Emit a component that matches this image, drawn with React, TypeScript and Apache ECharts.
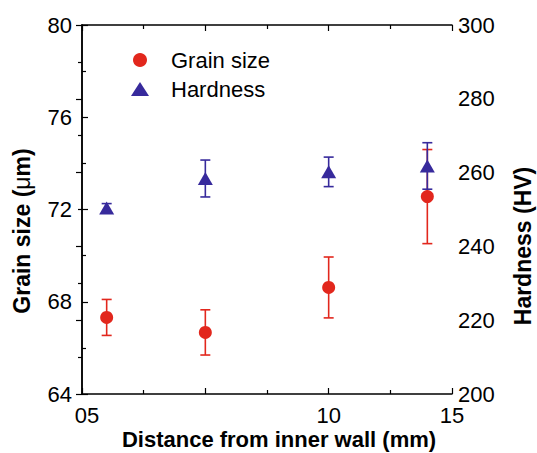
import React, { useEffect, useRef } from "react";
import * as echarts from "echarts";

const distance = [1, 5, 10, 14];
const grainSize = [67.32, 66.67, 68.62, 72.56];
const grainErr = [0.78, 0.98, 1.32, 2.04];
const hardness = [250.4, 258.4, 260.2, 261.8];
const hardErr = [1.2, 5.0, 4.0, 6.3];
const xTickLabels: Record<number, string> = { 0: "05", 5: "", 10: "10", 15: "15" };

const RED = "#e2271d";
const BLUE = "#372a9c";
const FONT = "Liberation Sans, Arial, Helvetica, sans-serif";

function errSeries(name: string, xs: number[], ys: number[], es: number[], color: string, yAxisIndex: number) {
  return {
    name,
    type: "custom",
    yAxisIndex,
    z: 2,
    silent: true,
    data: xs.map((x, i) => [x, ys[i] - es[i], ys[i] + es[i]]),
    renderItem: (params: any, api: any) => {
      const lo = api.coord([api.value(0), api.value(1)]);
      const hi = api.coord([api.value(0), api.value(2)]);
      const w = 5;
      const style = { stroke: color, lineWidth: 1.6 };
      return {
        type: "group",
        children: [
          { type: "line", shape: { x1: lo[0], y1: lo[1], x2: hi[0], y2: hi[1] }, style },
          { type: "line", shape: { x1: lo[0] - w, y1: lo[1], x2: lo[0] + w, y2: lo[1] }, style },
          { type: "line", shape: { x1: hi[0] - w, y1: hi[1], x2: hi[0] + w, y2: hi[1] }, style },
        ],
      };
    },
  };
}

export default function App() {
  const ref = useRef<HTMLDivElement>(null);
  useEffect(() => {
    const chart = echarts.init(ref.current!, null, { renderer: "svg" });
    const axisLine = { show: true, lineStyle: { color: "#000", width: 1.5 } };
    const tick = (len: number) => ({ show: true, inside: true, length: len, lineStyle: { color: "#000", width: 1.2 } });
    const minor = { show: true, splitNumber: 2, length: 4, lineStyle: { color: "#000", width: 1.2 } };
    const labelStyle = { color: "#000", fontSize: 22, fontFamily: FONT };
    chart.setOption({
      animation: false,
      backgroundColor: "#fff",
      grid: { left: 82, right: 85, top: 25, bottom: 59 },
      legend: {
        orient: "vertical",
        left: 126,
        top: 44,
        itemWidth: 18,
        itemHeight: 14,
        itemGap: 7,
        data: ["Grain size", "Hardness"],
        textStyle: { color: "#000", fontSize: 22, fontFamily: FONT, padding: [0, 0, 0, 17] },
      },
      graphic: [
        {
          type: "text",
          x: 279,
          y: 439,
          style: {
            text: "Distance from inner wall (mm)",
            fill: "#000",
            font: "bold 22px " + FONT,
            align: "center",
            verticalAlign: "middle",
          },
        },
        {
          type: "text",
          x: 22,
          y: 231,
          rotation: Math.PI / 2,
          style: {
            text: "{b|Grain size (}{m|μ}{b|m)}",
            align: "center",
            verticalAlign: "middle",
            rich: {
              b: { fill: "#000", fontSize: 23, fontWeight: "bold", fontFamily: FONT },
              m: { fill: "#000", fontSize: 23, fontWeight: "normal", fontFamily: FONT },
            },
          },
        },
        {
          type: "text",
          x: 523,
          y: 246,
          rotation: Math.PI / 2,
          style: {
            text: "Hardness (HV)",
            fill: "#000",
            font: "bold 23px " + FONT,
            align: "center",
            verticalAlign: "middle",
          },
        },
      ],
      xAxis: [
        {
          type: "value",
          min: 0,
          max: 15,
          interval: 5,
          position: "bottom",
          axisLine,
          axisTick: tick(6),
          minorTick: minor,
          splitLine: { show: false },
          axisLabel: {
            ...labelStyle,
            margin: 10,
            formatter: (v: number) => {
              const s = xTickLabels[v] ?? "";
              return v === 0 ? "{a|" + s + "}" : s;
            },
            rich: { a: { ...labelStyle, padding: [0, 0, 0, 10] } },
          },
        },
        {
          type: "value",
          min: 0,
          max: 15,
          interval: 5,
          position: "top",
          axisLine,
          axisTick: tick(6),
          minorTick: minor,
          splitLine: { show: false },
          axisLabel: { show: false },
        },
      ],
      yAxis: [
        {
          type: "value",
          min: 64,
          max: 80,
          interval: 4,
          position: "left",
          axisLine,
          axisTick: tick(6),
          minorTick: minor,
          splitLine: { show: false },
          axisLabel: { ...labelStyle, margin: 10 },
        },
        {
          type: "value",
          min: 200,
          max: 300,
          interval: 20,
          position: "right",
          axisLine,
          axisTick: tick(6),
          minorTick: minor,
          splitLine: { show: false },
          axisLabel: { ...labelStyle, margin: 6 },
        },
      ],
      series: [
        errSeries("grainErr", distance, grainSize, grainErr, RED, 0),
        {
          name: "Grain size",
          type: "scatter",
          yAxisIndex: 0,
          z: 3,
          symbol: "circle",
          symbolSize: 13,
          itemStyle: { color: RED, opacity: 1 },
          data: distance.map((x, i) => [x, grainSize[i]]),
        },
        errSeries("hardErr", distance, hardness, hardErr, BLUE, 1),
        {
          name: "Hardness",
          type: "scatter",
          yAxisIndex: 1,
          z: 4,
          symbol: "triangle",
          symbolSize: [15, 13],
          itemStyle: { color: BLUE, opacity: 1 },
          data: distance.map((x, i) => [x, hardness[i]]),
        },
      ],
    });
    return () => chart.dispose();
  }, []);
  return <div ref={ref} style={{ width: 537, height: 453, position: "absolute", left: 0, top: 0 }} />;
}
